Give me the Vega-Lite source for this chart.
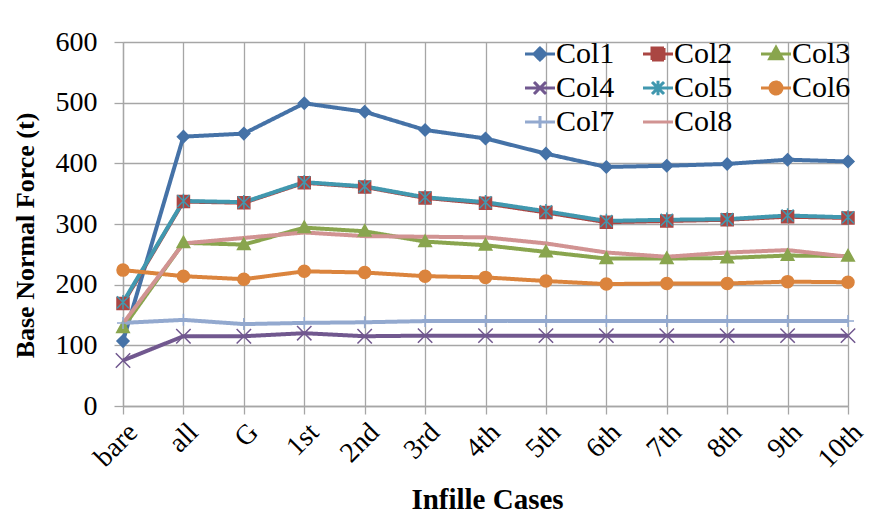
{
  "$schema": "https://vega.github.io/schema/vega-lite/v6.json",
  "autosize": {"type": "none"},
  "padding": {"left": 123, "top": 42, "right": 42, "bottom": 118},
  "width": 725,
  "height": 364,
  "background": "white",
  "config": {
    "view": {"stroke": null},
    "font": "Liberation Serif",
    "axis": {"labelFont": "Liberation Serif", "titleFont": "Liberation Serif", "labelColor": "black", "titleColor": "black", "gridColor": "#a6a6a6", "gridWidth": 1.3, "domainColor": "#a6a6a6", "domainWidth": 1.3, "tickColor": "#a6a6a6", "tickWidth": 1.3},
    "legend": {"labelFont": "Liberation Serif, serif"},
    "text": {"font": "Liberation Serif"}
  },
  "data": {"values": [
    {"c":"bare","s":"Col1","v":107},{"c":"all","s":"Col1","v":444},{"c":"G","s":"Col1","v":449},{"c":"1st","s":"Col1","v":499},{"c":"2nd","s":"Col1","v":485},{"c":"3rd","s":"Col1","v":455},{"c":"4th","s":"Col1","v":441},{"c":"5th","s":"Col1","v":416},{"c":"6th","s":"Col1","v":394},{"c":"7th","s":"Col1","v":396},{"c":"8th","s":"Col1","v":399},{"c":"9th","s":"Col1","v":406},{"c":"10th","s":"Col1","v":403},
    {"c":"bare","s":"Col2","v":169},{"c":"all","s":"Col2","v":337},{"c":"G","s":"Col2","v":335},{"c":"1st","s":"Col2","v":368},{"c":"2nd","s":"Col2","v":361},{"c":"3rd","s":"Col2","v":343},{"c":"4th","s":"Col2","v":334},{"c":"5th","s":"Col2","v":319},{"c":"6th","s":"Col2","v":303},{"c":"7th","s":"Col2","v":305},{"c":"8th","s":"Col2","v":307},{"c":"9th","s":"Col2","v":312},{"c":"10th","s":"Col2","v":310},
    {"c":"bare","s":"Col3","v":129},{"c":"all","s":"Col3","v":269},{"c":"G","s":"Col3","v":266},{"c":"1st","s":"Col3","v":294},{"c":"2nd","s":"Col3","v":288},{"c":"3rd","s":"Col3","v":271},{"c":"4th","s":"Col3","v":265},{"c":"5th","s":"Col3","v":254},{"c":"6th","s":"Col3","v":243},{"c":"7th","s":"Col3","v":243},{"c":"8th","s":"Col3","v":244},{"c":"9th","s":"Col3","v":248},{"c":"10th","s":"Col3","v":247},
    {"c":"bare","s":"Col4","v":75},{"c":"all","s":"Col4","v":115},{"c":"G","s":"Col4","v":115},{"c":"1st","s":"Col4","v":120},{"c":"2nd","s":"Col4","v":115},{"c":"3rd","s":"Col4","v":116},{"c":"4th","s":"Col4","v":116},{"c":"5th","s":"Col4","v":116},{"c":"6th","s":"Col4","v":116},{"c":"7th","s":"Col4","v":116},{"c":"8th","s":"Col4","v":116},{"c":"9th","s":"Col4","v":116},{"c":"10th","s":"Col4","v":116},
    {"c":"bare","s":"Col5","v":171},{"c":"all","s":"Col5","v":338},{"c":"G","s":"Col5","v":336},{"c":"1st","s":"Col5","v":369},{"c":"2nd","s":"Col5","v":362},{"c":"3rd","s":"Col5","v":344},{"c":"4th","s":"Col5","v":336},{"c":"5th","s":"Col5","v":321},{"c":"6th","s":"Col5","v":305},{"c":"7th","s":"Col5","v":307},{"c":"8th","s":"Col5","v":308},{"c":"9th","s":"Col5","v":314},{"c":"10th","s":"Col5","v":311},
    {"c":"bare","s":"Col6","v":224},{"c":"all","s":"Col6","v":214},{"c":"G","s":"Col6","v":209},{"c":"1st","s":"Col6","v":222},{"c":"2nd","s":"Col6","v":220},{"c":"3rd","s":"Col6","v":214},{"c":"4th","s":"Col6","v":212},{"c":"5th","s":"Col6","v":206},{"c":"6th","s":"Col6","v":201},{"c":"7th","s":"Col6","v":202},{"c":"8th","s":"Col6","v":202},{"c":"9th","s":"Col6","v":205},{"c":"10th","s":"Col6","v":204},
    {"c":"bare","s":"Col7","v":137},{"c":"all","s":"Col7","v":142},{"c":"G","s":"Col7","v":135},{"c":"1st","s":"Col7","v":137},{"c":"2nd","s":"Col7","v":138},{"c":"3rd","s":"Col7","v":140},{"c":"4th","s":"Col7","v":140},{"c":"5th","s":"Col7","v":140},{"c":"6th","s":"Col7","v":140},{"c":"7th","s":"Col7","v":140},{"c":"8th","s":"Col7","v":140},{"c":"9th","s":"Col7","v":140},{"c":"10th","s":"Col7","v":140},
    {"c":"bare","s":"Col8","v":136},{"c":"all","s":"Col8","v":268},{"c":"G","s":"Col8","v":277},{"c":"1st","s":"Col8","v":286},{"c":"2nd","s":"Col8","v":280},{"c":"3rd","s":"Col8","v":279},{"c":"4th","s":"Col8","v":278},{"c":"5th","s":"Col8","v":268},{"c":"6th","s":"Col8","v":253},{"c":"7th","s":"Col8","v":246},{"c":"8th","s":"Col8","v":253},{"c":"9th","s":"Col8","v":257},{"c":"10th","s":"Col8","v":246}
  ]},
  "encoding": {
    "x": {"field": "c", "type": "ordinal", "sort": null, "scale": {"type": "point", "padding": 0},
      "axis": {"title": "Infille Cases", "titleFontSize": 29, "titleFontWeight": "bold", "titleX": 364, "titleY": 102, "titleBaseline": "alphabetic", "titleAnchor": null, "labelAngle": -45, "labelFontSize": 28, "labelPadding": 4, "tickSize": 8, "grid": true, "domain": true}},
    "y": {"field": "v", "type": "quantitative", "scale": {"domain": [0, 600], "nice": false},
      "axis": {"title": "Base Normal Force (t)", "titleFontSize": 26, "titleFontWeight": "bold", "titleX": -98, "titleY": 193, "titleAngle": -90, "titleBaseline": "middle", "titleAlign": "center", "values": [0,100,200,300,400,500,600], "labelFontSize": 28, "labelPadding": 17, "tickSize": 9, "grid": true}}
  },
  "layer": [
    {
      "mark": {"type": "line", "strokeWidth": 4},
      "encoding": {
        "stroke": {"field": "s", "type": "nominal", "legend": null, "scale": {"domain": ["Col8","Col7","Col6","Col5","Col4","Col3","Col2","Col1"], "range": ["#D19392","#93A9CF","#DB843D","#4198AF","#71588F","#89A54E","#AA4643","#4572A7"]}},
        "strokeDash": {"field": "s", "type": "nominal", "scale": {"domain": ["Col1","Col2","Col3","Col4","Col5","Col6","Col7","Col8"], "range": [[1,0],[1,0],[1,0],[1,0],[1,0],[1,0],[1,0],[1,0]]},
          "legend": {"title": null, "orient": "none", "direction": "horizontal", "legendX": 402, "legendY": -3, "columns": 3, "columnPadding": 22, "rowPadding": 4, "padding": 0, "labelFont": "Liberation Serif, serif", "labelFontSize": 30, "labelColor": "black", "labelOffset": 1, "symbolSize": 144, "symbolStrokeWidth": 3, "labelLimit": 200,
            "encoding": {
              "labels": {"font": {"value": "Liberation Serif, serif"}, "fontSize": {"value": 30}},
              "symbols": {
              "shape": {"value": {"expr": "['M-2.5,0H2.5M0,-1L1,0L0,1L-1,0Z','M-2.5,0H2.5M-1,-1H1V1H-1Z','M-2.5,0H2.5M0,-1.1L1.05,0.8H-1.05Z','M-2.5,0H2.5M-1,-1L1,1M-1,1L1,-1','M-2.5,0H2.5M-1,-1L1,1M-1,1L1,-1M0,-1.2V1.2','M-2.5,0H2.5M1,0A1,1 0 1,1 -1,0A1,1 0 1,1 1,0Z','M-2.5,0H2.5M0,-1V1','M-2.5,0H2.5'][indexof(['Col1','Col2','Col3','Col4','Col5','Col6','Col7','Col8'], datum.value)]"}},
              "fill": {"value": {"expr": "scale('stroke', datum.value)"}},
              "stroke": {"value": {"expr": "scale('stroke', datum.value)"}},
              "strokeWidth": {"value": 3},
              "opacity": {"value": 1}
            }}}}
      }
    },
    {
      "mark": {"type": "point", "filled": true, "opacity": 1, "size": 144, "strokeWidth": 1.5},
      "encoding": {
        "fill": {"field": "s", "type": "nominal", "legend": null, "scale": {"domain": ["Col8","Col7","Col6","Col5","Col4","Col3","Col2","Col1"], "range": ["#D19392","#93A9CF","#DB843D","#4198AF","#71588F","#89A54E","#AA4643","#4572A7"]}},
        "stroke": {"field": "s", "type": "nominal", "legend": null},
        "shape": {"field": "s", "type": "nominal", "legend": null, "scale": {"domain": ["Col8","Col7","Col6","Col5","Col4","Col3","Col2","Col1"], "range": ["M0,0","M0,-1V1M-1,0H1","circle","M-1,-1L1,1M-1,1L1,-1M0,-1.2V1.2","M-1.2,-1.2L1.2,1.2M-1.2,1.2L1.2,-1.2","M0,-1.1L1.05,0.8H-1.05Z","M-1,-1H1V1H-1Z","M0,-1L1,0L0,1L-1,0Z"]}}
      }
    }
  ]
}
